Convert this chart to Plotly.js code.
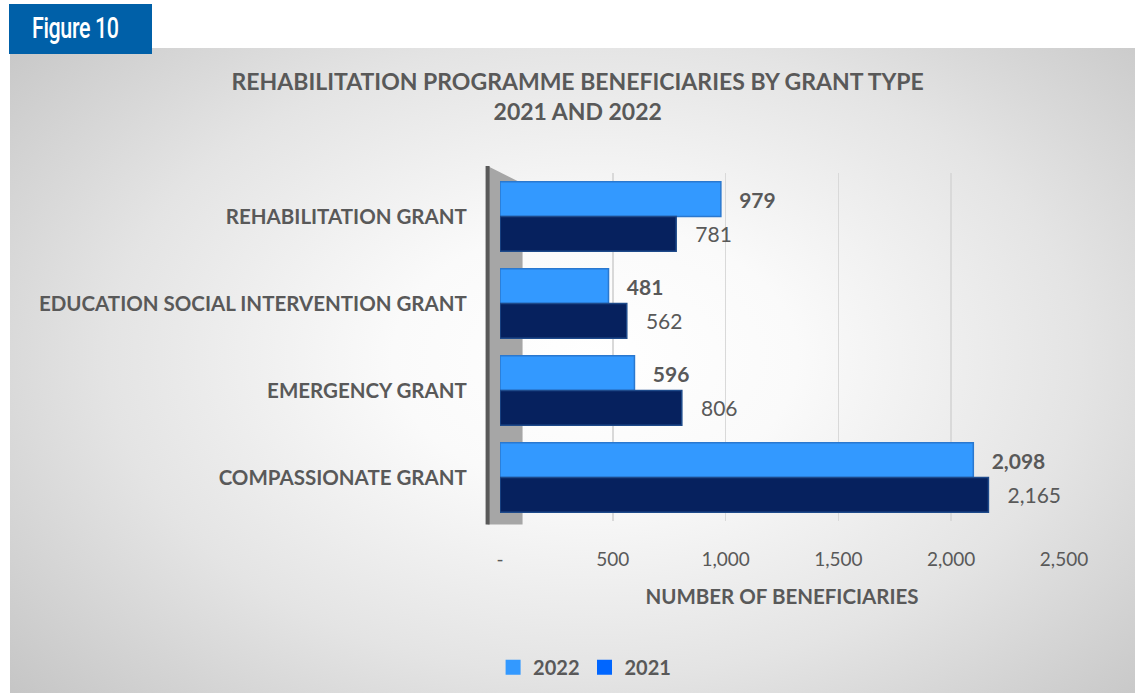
<!DOCTYPE html>
<html>
<head>
<meta charset="utf-8">
<script src="https://cdn.plot.ly/plotly-3.0.1.min.js"></script>
<style>
  html, body { margin:0; padding:0; background:#ffffff; width:1135px; height:693px; overflow:hidden; }
  #panel { position:absolute; left:10px; top:48px; width:1125px; height:645px;
    background: radial-gradient(ellipse 72% 82% at 52% 48%, #ffffff 0%, #fafafa 25%, #e4e4e4 60%, #c2c2c2 100%); }
  #fig { position:absolute; left:9px; top:4px; width:143px; height:50px; background:#0060a8; z-index:3; }
  #fig span { position:absolute; left:23px; top:7px; color:#fff; font-family:Roboto, "DejaVu Sans", sans-serif;
    font-size:29px; font-weight:500; line-height:34px; transform:scaleX(0.74); transform-origin:left center; white-space:nowrap; letter-spacing:-0.5px; }
  #chart { position:absolute; left:0; top:0; width:1135px; height:693px; z-index:2; }
</style>
</head>
<body>
<div id="panel"></div>
<div id="fig"><span>Figure 10</span></div>
<div id="chart"></div>
<script>
const categories = ["REHABILITATION GRANT", "EDUCATION SOCIAL INTERVENTION GRANT", "EMERGENCY GRANT", "COMPASSIONATE GRANT"];
const values2022 = [979, 481, 596, 2098];
const values2021 = [781, 562, 806, 2165];
const xTickVals = [0, 500, 1000, 1500, 2000, 2500];
const xTickText = ["-", "500", "1,000", "1,500", "2,000", "2,500"];

const fontFam = "Lato, 'Open Sans', sans-serif";
const gray = "#595959";
const fmt = v => "\u00a0\u00a0\u00a0" + v.toLocaleString("en-US");

const traces = [
  { type:"bar", orientation:"h", name:"2022", y:categories, x:values2022,
    marker:{color:"#3399ff", line:{color:"#2a78cf", width:1.5}},
    text:values2022.map(fmt), textposition:"outside", cliponaxis:false, constraintext:"none",
    textfont:{family:fontFam, size:21, color:gray, weight:"bold"}, showlegend:false },
  { type:"bar", orientation:"h", name:"2021", y:categories, x:values2021,
    marker:{color:"#06215e", line:{color:"#1e4a8a", width:1.5}},
    text:values2021.map(fmt), textposition:"outside", cliponaxis:false, constraintext:"none",
    textfont:{family:fontFam, size:21, color:gray}, showlegend:false },
  { type:"scatter", mode:"markers", name:"2022", y:[null], x:[null],
    marker:{color:"#3399ff", symbol:"square", size:15}, showlegend:true },
  { type:"scatter", mode:"markers", name:"2021", y:[null], x:[null],
    marker:{color:"#0066ff", symbol:"square", size:15}, showlegend:true }
];

const layout = {
  width:1135, height:693,
  paper_bgcolor:"rgba(0,0,0,0)", plot_bgcolor:"rgba(0,0,0,0)",
  margin:{l:500, r:71, t:173, b:172, autoexpand:false},
  barmode:"group", bargap:0.2, bargroupgap:0,
  font:{family:fontFam, color:gray},
  title:{text:"<b>REHABILITATION PROGRAMME BENEFICIARIES BY GRANT TYPE<br>2021 AND 2022</b>",
    x:0.509, xanchor:"center", y:0.870, yanchor:"middle",
    font:{family:fontFam, size:23, color:gray, lineheight:1.4}},
  xaxis:{range:[0, 2500], tickvals:xTickVals, ticktext:xTickText, automargin:false,
    showgrid:true, gridcolor:"#d9d9d9", gridwidth:1.5, zeroline:false,
    ticks:"outside", ticklen:21, tickcolor:"rgba(0,0,0,0)",
    tickfont:{family:fontFam, size:19, color:gray},
    title:{text:"<b>NUMBER OF BENEFICIARIES</b>", standoff:20, font:{family:fontFam, size:20.5, color:gray}}},
  yaxis:{categoryorder:"array", categoryarray:categories, autorange:"reversed", automargin:false,
    showgrid:false, zeroline:false, showline:false,
    ticks:"outside", ticklen:28, tickcolor:"rgba(0,0,0,0)",
    tickfont:{family:fontFam, size:20.5, color:gray, weight:"bold"}},
  legend:{orientation:"h", x:0.15, xanchor:"center", y:-0.42, yanchor:"middle",
    font:{family:fontFam, size:20, color:gray, weight:"bold"}, bgcolor:"rgba(0,0,0,0)",
    itemwidth:30, traceorder:"normal", tracegroupgap:0},
  shapes:[
    {type:"path", xref:"paper", yref:"paper", path:"M -0.022 1.02 L 0.04 0.97 L 0.04 -0.01 L -0.022 -0.01 Z",
      fillcolor:"#a6a6a6", line:{width:0}, layer:"below"},
    {type:"line", xref:"paper", yref:"paper", x0:-0.022, x1:-0.022, y0:1.02, y1:-0.01,
      line:{color:"#595959", width:4}}
  ]
};

Plotly.newPlot("chart", traces, layout, {displayModeBar:false, staticPlot:true});
</script>
</body>
</html>
